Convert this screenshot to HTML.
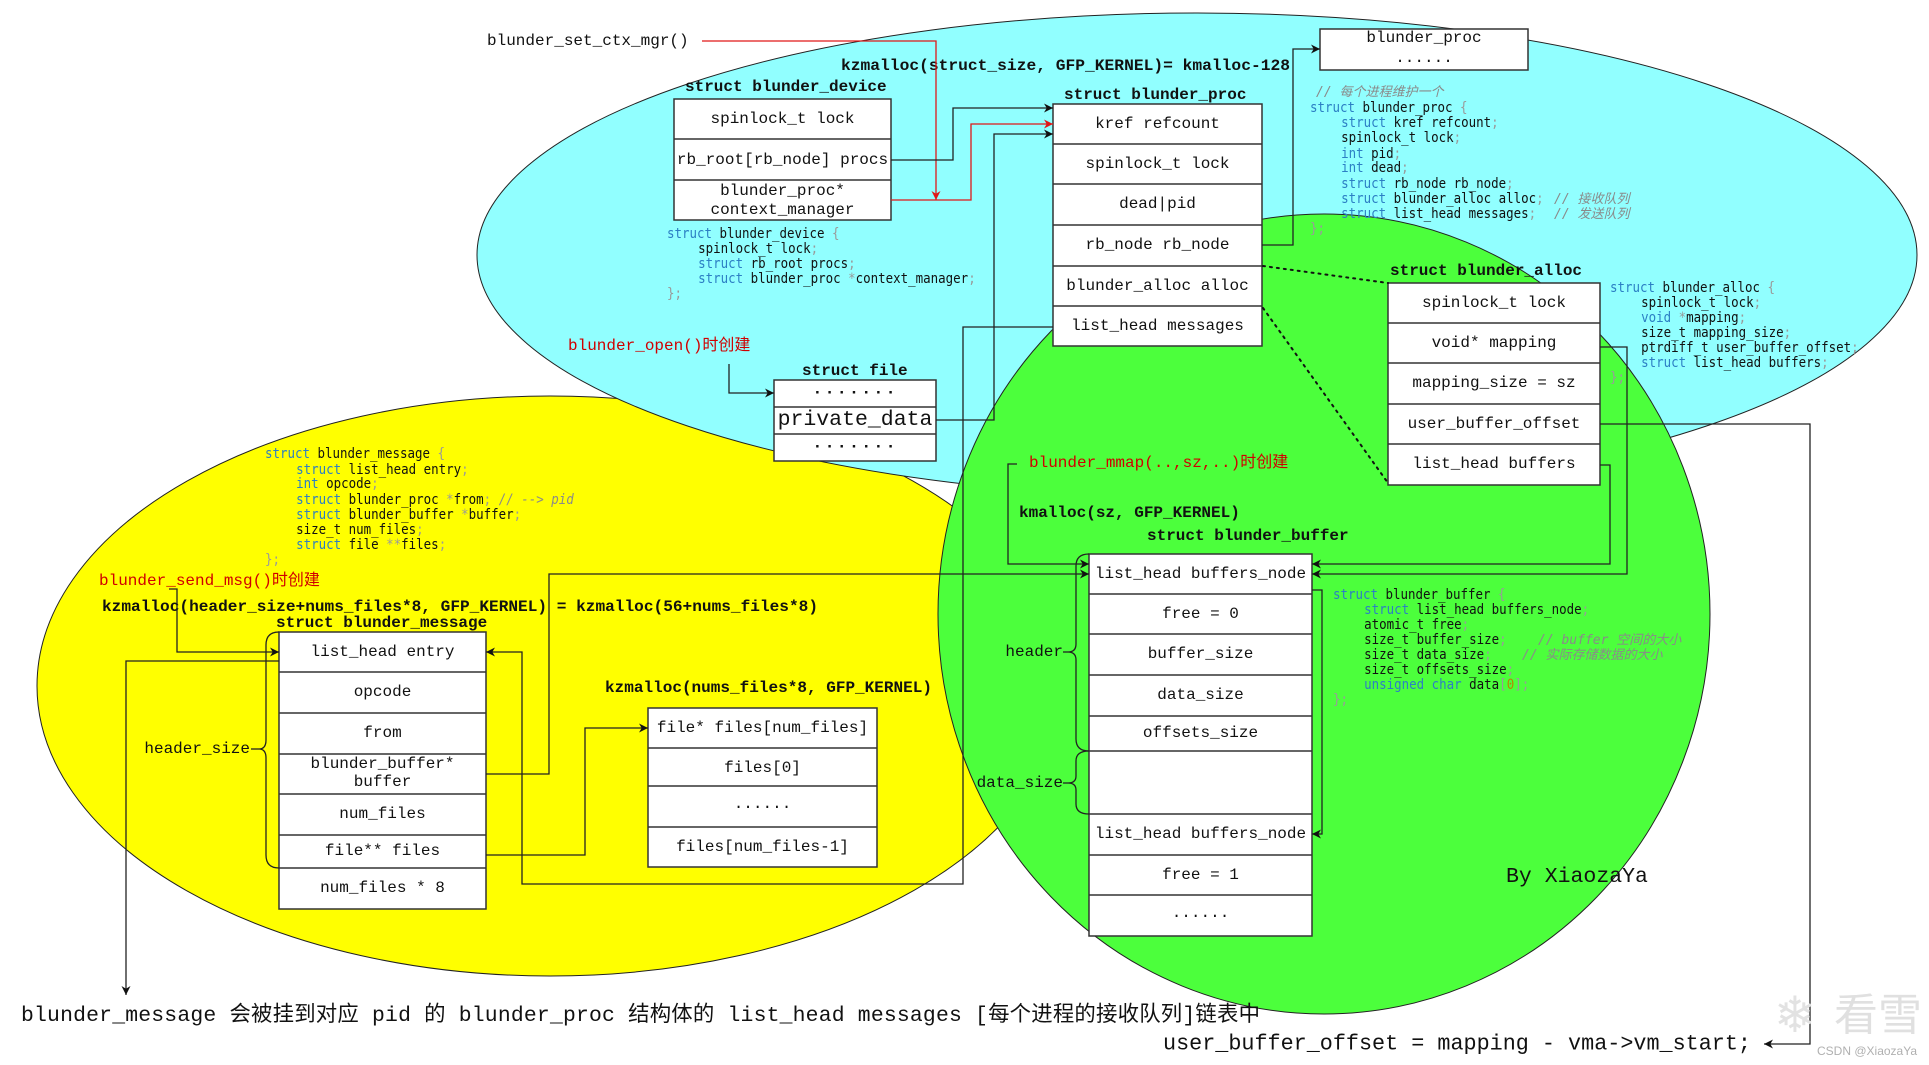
<!DOCTYPE html>
<html>
<head>
<meta charset="utf-8">
<style>
html,body{margin:0;padding:0;background:#fff;}
svg{display:block;}
.m{font-family:"Liberation Mono","Noto Sans CJK SC",monospace;font-size:16px;fill:#111;}
.b{font-weight:bold;}
.r{fill:#d00000;}
.c{font-family:"DejaVu Sans Mono","Noto Sans CJK SC",monospace;font-size:14px;fill:#111;}
.k{fill:#2c7fc4;}
.p{fill:#9a9a9a;}
.cm{fill:#8a8a8a;font-style:italic;}
.n{fill:#b58900;}
.box{fill:#fff;stroke:#333;stroke-width:1.5;}
.ln{fill:none;stroke:#222;stroke-width:1.3;}
.rl{fill:none;stroke:#e01818;stroke-width:1.3;}
</style>
</head>
<body>
<svg width="1929" height="1065" viewBox="0 0 1929 1065" xmlns="http://www.w3.org/2000/svg">
<defs>
<marker id="a" viewBox="0 0 10 10" refX="10" refY="5" markerWidth="9" markerHeight="9" markerUnits="userSpaceOnUse" orient="auto"><path d="M0,0 L10,5 L0,10 L3,5 z" fill="#111"/></marker>
<marker id="ar" viewBox="0 0 10 10" refX="10" refY="5" markerWidth="9" markerHeight="9" markerUnits="userSpaceOnUse" orient="auto"><path d="M0,0 L10,5 L0,10 L3,5 z" fill="#e01818"/></marker>
</defs>

<!-- ellipses -->
<ellipse cx="550" cy="686" rx="513" ry="290" fill="#ffff00" stroke="#222" stroke-width="1"/>
<ellipse cx="1197" cy="255" rx="720" ry="242" fill="#91ffff" stroke="#222" stroke-width="1"/>
<ellipse cx="1324" cy="614" rx="386" ry="400" fill="#4cff3c" stroke="#222" stroke-width="1"/>

<!-- ===== top labels ===== -->
<text class="m" x="487" y="41" dominant-baseline="central">blunder_set_ctx_mgr()</text>
<text class="m b" x="841" y="66" dominant-baseline="central" textLength="449" lengthAdjust="spacingAndGlyphs">kzmalloc(struct_size, GFP_KERNEL)= kmalloc-128</text>
<text class="m b" x="685" y="87" dominant-baseline="central">struct blunder_device</text>
<text class="m b" x="1064" y="95" dominant-baseline="central">struct blunder_proc</text>

<!-- blunder_device box -->
<rect class="box" x="674" y="99" width="217" height="121"/>
<line x1="674" y1="139" x2="891" y2="139" stroke="#333" stroke-width="1.5"/>
<line x1="674" y1="180" x2="891" y2="180" stroke="#333" stroke-width="1.5"/>
<g class="m" text-anchor="middle" dominant-baseline="central">
<text x="782.5" y="119" dominant-baseline="central">spinlock_t lock</text>
<text x="782.5" y="160" dominant-baseline="central">rb_root[rb_node] procs</text>
<text x="782.5" y="191" dominant-baseline="central">blunder_proc*</text>
<text x="782.5" y="210" dominant-baseline="central">context_manager</text>
</g>

<!-- blunder_proc box -->
<rect class="box" x="1053" y="104" width="209" height="242"/>
<g stroke="#333" stroke-width="1.5">
<line x1="1053" y1="144" x2="1262" y2="144"/>
<line x1="1053" y1="184" x2="1262" y2="184"/>
<line x1="1053" y1="225" x2="1262" y2="225"/>
<line x1="1053" y1="266" x2="1262" y2="266"/>
<line x1="1053" y1="306" x2="1262" y2="306"/>
</g>
<g class="m" text-anchor="middle">
<text x="1157.5" y="124" dominant-baseline="central">kref refcount</text>
<text x="1157.5" y="164" dominant-baseline="central">spinlock_t lock</text>
<text x="1157.5" y="204" dominant-baseline="central">dead|pid</text>
<text x="1157.5" y="245" dominant-baseline="central">rb_node rb_node</text>
<text x="1157.5" y="286" dominant-baseline="central">blunder_alloc alloc</text>
<text x="1157.5" y="326" dominant-baseline="central">list_head messages</text>
</g>

<!-- small blunder_proc box -->
<rect class="box" x="1320" y="29" width="208" height="41"/>
<text class="m" x="1424" y="38" text-anchor="middle" dominant-baseline="central">blunder_proc</text>
<text class="m" x="1424" y="58" text-anchor="middle" dominant-baseline="central">......</text>

<!-- blunder_alloc -->
<text class="m b" x="1390" y="271" dominant-baseline="central">struct blunder_alloc</text>
<rect class="box" x="1388" y="283" width="212" height="202"/>
<g stroke="#333" stroke-width="1.5">
<line x1="1388" y1="323" x2="1600" y2="323"/>
<line x1="1388" y1="363" x2="1600" y2="363"/>
<line x1="1388" y1="404" x2="1600" y2="404"/>
<line x1="1388" y1="444" x2="1600" y2="444"/>
</g>
<g class="m" text-anchor="middle">
<text x="1494" y="303" dominant-baseline="central">spinlock_t lock</text>
<text x="1494" y="343" dominant-baseline="central">void* mapping</text>
<text x="1494" y="383" dominant-baseline="central">mapping_size = sz</text>
<text x="1494" y="424" dominant-baseline="central">user_buffer_offset</text>
<text x="1494" y="464" dominant-baseline="central">list_head buffers</text>
</g>

<!-- struct file -->
<text class="m r" x="568" y="346" dominant-baseline="central">blunder_open()时创建</text>
<text class="m b" x="802" y="371" dominant-baseline="central">struct file</text>
<rect class="box" x="774" y="380" width="162" height="81"/>
<line x1="774" y1="407" x2="936" y2="407" stroke="#333" stroke-width="1.5"/>
<line x1="774" y1="434" x2="936" y2="434" stroke="#333" stroke-width="1.5"/>
<text class="m b" x="855" y="390" text-anchor="middle" dominant-baseline="central" style="font-size:17px;letter-spacing:2px">.......</text>
<text class="m" x="855" y="420" text-anchor="middle" dominant-baseline="central" style="font-size:21.5px">private_data</text>
<text class="m b" x="855" y="444" text-anchor="middle" dominant-baseline="central" style="font-size:17px;letter-spacing:2px">.......</text>

<!-- blunder_message area -->
<text class="m r" x="99" y="581" dominant-baseline="central">blunder_send_msg()时创建</text>
<text class="m b" x="102" y="607" dominant-baseline="central" textLength="716" lengthAdjust="spacingAndGlyphs">kzmalloc(header_size+nums_files*8, GFP_KERNEL) = kzmalloc(56+nums_files*8)</text>
<text class="m b" x="276" y="623" dominant-baseline="central">struct blunder_message</text>
<rect class="box" x="279" y="632" width="207" height="277"/>
<g stroke="#333" stroke-width="1.5">
<line x1="279" y1="672" x2="486" y2="672"/>
<line x1="279" y1="713" x2="486" y2="713"/>
<line x1="279" y1="754" x2="486" y2="754"/>
<line x1="279" y1="794" x2="486" y2="794"/>
<line x1="279" y1="835" x2="486" y2="835"/>
<line x1="279" y1="868" x2="486" y2="868"/>
</g>
<g class="m" text-anchor="middle">
<text x="382.5" y="652" dominant-baseline="central">list_head entry</text>
<text x="382.5" y="692" dominant-baseline="central">opcode</text>
<text x="382.5" y="733" dominant-baseline="central">from</text>
<text x="382.5" y="764" dominant-baseline="central">blunder_buffer*</text>
<text x="382.5" y="782" dominant-baseline="central">buffer</text>
<text x="382.5" y="814" dominant-baseline="central">num_files</text>
<text x="382.5" y="851" dominant-baseline="central">file** files</text>
<text x="382.5" y="888" dominant-baseline="central">num_files * 8</text>
</g>
<!-- header_size brace -->
<path class="ln" d="M279,632 Q266,632 266,645 L266,740 Q266,749 259,749 Q266,749 266,758 L266,855 Q266,868 279,868"/>
<line class="ln" x1="251" y1="749" x2="259" y2="749"/>
<text class="m" x="250" y="749" text-anchor="end" dominant-baseline="central">header_size</text>

<!-- files array -->
<text class="m b" x="605" y="688" dominant-baseline="central" textLength="327" lengthAdjust="spacingAndGlyphs">kzmalloc(nums_files*8, GFP_KERNEL)</text>
<rect class="box" x="648" y="708" width="229" height="159"/>
<g stroke="#333" stroke-width="1.5">
<line x1="648" y1="748" x2="877" y2="748"/>
<line x1="648" y1="786" x2="877" y2="786"/>
<line x1="648" y1="827" x2="877" y2="827"/>
</g>
<g class="m" text-anchor="middle">
<text x="762.5" y="728" dominant-baseline="central">file* files[num_files]</text>
<text x="762.5" y="768" dominant-baseline="central">files[0]</text>
<text x="762.5" y="804" dominant-baseline="central">......</text>
<text x="762.5" y="847" dominant-baseline="central">files[num_files-1]</text>
</g>

<!-- blunder_buffer -->
<text class="m r" x="1029" y="463" dominant-baseline="central">blunder_mmap(..,sz,..)时创建</text>
<text class="m b" x="1019" y="513" dominant-baseline="central">kmalloc(sz, GFP_KERNEL)</text>
<text class="m b" x="1147" y="536" dominant-baseline="central">struct blunder_buffer</text>
<rect class="box" x="1089" y="554" width="223" height="382"/>
<g stroke="#333" stroke-width="1.5">
<line x1="1089" y1="594" x2="1312" y2="594"/>
<line x1="1089" y1="634" x2="1312" y2="634"/>
<line x1="1089" y1="675" x2="1312" y2="675"/>
<line x1="1089" y1="716" x2="1312" y2="716"/>
<line x1="1089" y1="751" x2="1312" y2="751"/>
<line x1="1089" y1="814" x2="1312" y2="814"/>
<line x1="1089" y1="855" x2="1312" y2="855"/>
<line x1="1089" y1="895" x2="1312" y2="895"/>
</g>
<g class="m" text-anchor="middle">
<text x="1200.5" y="574" dominant-baseline="central">list_head buffers_node</text>
<text x="1200.5" y="614" dominant-baseline="central">free = 0</text>
<text x="1200.5" y="654" dominant-baseline="central">buffer_size</text>
<text x="1200.5" y="695" dominant-baseline="central">data_size</text>
<text x="1200.5" y="733" dominant-baseline="central">offsets_size</text>
<text x="1200.5" y="834" dominant-baseline="central">list_head buffers_node</text>
<text x="1200.5" y="875" dominant-baseline="central">free = 1</text>
<text x="1200.5" y="913" dominant-baseline="central">......</text>
</g>
<!-- braces -->
<path class="ln" d="M1089,554 Q1076,554 1076,566 L1076,644 Q1076,652 1068,652 Q1076,652 1076,660 L1076,739 Q1076,751 1089,751"/>
<line class="ln" x1="1063" y1="652" x2="1068" y2="652"/>
<text class="m" x="1063" y="652" text-anchor="end" dominant-baseline="central">header</text>
<path class="ln" d="M1089,751 Q1076,751 1076,761 L1076,776 Q1076,783 1068,783 Q1076,783 1076,790 L1076,804 Q1076,814 1089,814"/>
<line class="ln" x1="1063" y1="783" x2="1068" y2="783"/>
<text class="m" x="1063" y="783" text-anchor="end" dominant-baseline="central">data_size</text>

<!-- ===== connectors ===== -->
<polyline class="rl" points="702,41 936,41 936,200" marker-end="url(#ar)"/>
<polyline class="ln" points="891,160 953,160 953,108 1053,108" marker-end="url(#a)"/>
<polyline class="rl" points="891,200 971,200 971,124 1053,124" marker-end="url(#ar)"/>
<polyline class="ln" points="936,420 994,420 994,134 1053,134" marker-end="url(#a)"/>
<polyline class="ln" points="729,364 729,393 774,393" marker-end="url(#a)"/>
<polyline class="ln" points="1262,245 1293,245 1293,49 1320,49" marker-end="url(#a)"/>
<line x1="1263" y1="266" x2="1388" y2="283" stroke="#111" stroke-width="2" stroke-dasharray="2,5" stroke-linecap="round"/>
<line x1="1263" y1="308" x2="1388" y2="483" stroke="#111" stroke-width="2" stroke-dasharray="2,5" stroke-linecap="round"/>
<polyline class="ln" points="1053,327 963,327 963,884 522,884 522,652 486,652" marker-end="url(#a)"/>
<polyline class="ln" points="486,774 549,774 549,574 1089,574" marker-end="url(#a)"/>
<polyline class="ln" points="486,855 585,855 585,728 648,728" marker-end="url(#a)"/>
<polyline class="ln" points="169,589 177,589 177,652 279,652" marker-end="url(#a)"/>
<polyline class="ln" points="279,661 126,661 126,995" marker-end="url(#a)"/>
<polyline class="ln" points="1017,464 1008,464 1008,564 1089,564" marker-end="url(#a)"/>
<polyline class="ln" points="1600,347 1627,347 1627,574 1312,574" marker-end="url(#a)"/>
<polyline class="ln" points="1600,465 1610,465 1610,564 1312,564" marker-end="url(#a)"/>
<polyline class="ln" points="1312,590 1322,590 1322,834 1312,834" marker-end="url(#a)"/>
<polyline class="ln" points="1600,424 1810,424 1810,1044 1764,1044" marker-end="url(#a)"/>

<!-- ===== code blocks ===== -->
<g transform="translate(667,0) scale(0.89,1)">
<text class="c" x="0" y="238"><tspan class="k">struct</tspan> blunder_device <tspan class="p">{</tspan></text>
<text class="c" x="35" y="253">spinlock_t lock<tspan class="p">;</tspan></text>
<text class="c" x="35" y="268"><tspan class="k">struct</tspan> rb_root procs<tspan class="p">;</tspan></text>
<text class="c" x="35" y="283"><tspan class="k">struct</tspan> blunder_proc <tspan class="p">*</tspan>context_manager<tspan class="p">;</tspan></text>
<text class="c p" x="0" y="298">};</text>
</g>

<text class="c cm" x="1316" y="96" style="font-size:13px">// 每个进程维护一个</text>
<g transform="translate(1310,0) scale(0.89,1)">
<text class="c" x="0" y="112"><tspan class="k">struct</tspan> blunder_proc <tspan class="p">{</tspan></text>
<text class="c" x="35" y="127"><tspan class="k">struct</tspan> kref refcount<tspan class="p">;</tspan></text>
<text class="c" x="35" y="142">spinlock_t lock<tspan class="p">;</tspan></text>
<text class="c" x="35" y="158"><tspan class="k">int</tspan> pid<tspan class="p">;</tspan></text>
<text class="c" x="35" y="172"><tspan class="k">int</tspan> dead<tspan class="p">;</tspan></text>
<text class="c" x="35" y="188"><tspan class="k">struct</tspan> rb_node rb_node<tspan class="p">;</tspan></text>
<text class="c" x="35" y="203"><tspan class="k">struct</tspan> blunder_alloc alloc<tspan class="p">;</tspan></text>
<text class="c" x="35" y="218"><tspan class="k">struct</tspan> list_head messages<tspan class="p">;</tspan></text>
<text class="c p" x="0" y="233">};</text>
</g>
<text class="c cm" x="1554" y="203" style="font-size:13px">// 接收队列</text>
<text class="c cm" x="1554" y="218" style="font-size:13px">// 发送队列</text>

<g transform="translate(1610,0) scale(0.89,1)">
<text class="c" x="0" y="292"><tspan class="k">struct</tspan> blunder_alloc <tspan class="p">{</tspan></text>
<text class="c" x="35" y="307">spinlock_t lock<tspan class="p">;</tspan></text>
<text class="c" x="35" y="322"><tspan class="k">void</tspan> <tspan class="p">*</tspan>mapping<tspan class="p">;</tspan></text>
<text class="c" x="35" y="337">size_t mapping_size<tspan class="p">;</tspan></text>
<text class="c" x="35" y="352">ptrdiff_t user_buffer_offset<tspan class="p">;</tspan></text>
<text class="c" x="35" y="367"><tspan class="k">struct</tspan> list_head buffers<tspan class="p">;</tspan></text>
<text class="c p" x="0" y="382">};</text>
</g>

<g transform="translate(265,0) scale(0.89,1)">
<text class="c" x="0" y="458"><tspan class="k">struct</tspan> blunder_message <tspan class="p">{</tspan></text>
<text class="c" x="35" y="474"><tspan class="k">struct</tspan> list_head entry<tspan class="p">;</tspan></text>
<text class="c" x="35" y="488"><tspan class="k">int</tspan> opcode<tspan class="p">;</tspan></text>
<text class="c" x="35" y="504"><tspan class="k">struct</tspan> blunder_proc <tspan class="p">*</tspan>from<tspan class="p">;</tspan> <tspan class="cm">// --&gt; pid</tspan></text>
<text class="c" x="35" y="519"><tspan class="k">struct</tspan> blunder_buffer <tspan class="p">*</tspan>buffer<tspan class="p">;</tspan></text>
<text class="c" x="35" y="534">size_t num_files<tspan class="p">;</tspan></text>
<text class="c" x="35" y="549"><tspan class="k">struct</tspan> file <tspan class="p">**</tspan>files<tspan class="p">;</tspan></text>
<text class="c p" x="0" y="564">};</text>
</g>

<g transform="translate(1333,0) scale(0.89,1)">
<text class="c" x="0" y="599"><tspan class="k">struct</tspan> blunder_buffer <tspan class="p">{</tspan></text>
<text class="c" x="35" y="614"><tspan class="k">struct</tspan> list_head buffers_node<tspan class="p">;</tspan></text>
<text class="c" x="35" y="629">atomic_t free<tspan class="p">;</tspan></text>
<text class="c" x="35" y="644">size_t buffer_size<tspan class="p">;</tspan></text>
<text class="c" x="35" y="659">size_t data_size<tspan class="p">;</tspan></text>
<text class="c" x="35" y="674">size_t offsets_size<tspan class="p">;</tspan></text>
<text class="c" x="35" y="689"><tspan class="k">unsigned</tspan> <tspan class="k">char</tspan> data<tspan class="p">[</tspan><tspan class="n">0</tspan><tspan class="p">];</tspan></text>
<text class="c p" x="0" y="704">};</text>
</g>
<text class="c cm" x="1538" y="644" style="font-size:13px">// buffer 空间的大小</text>
<text class="c cm" x="1522" y="659" style="font-size:13px">// 实际存储数据的大小</text>

<text class="m" x="1506" y="877" dominant-baseline="central" style="font-size:21.5px">By XiaozaYa</text>

<text class="m" x="21" y="1016" dominant-baseline="central" style="font-size:21.4px" textLength="1239" lengthAdjust="spacing">blunder_message 会被挂到对应 pid 的 blunder_proc 结构体的 list_head messages [每个进程的接收队列]链表中</text>
<text class="m" x="1163" y="1044" dominant-baseline="central" style="font-size:21.8px" textLength="588" lengthAdjust="spacingAndGlyphs">user_buffer_offset = mapping - vma-&gt;vm_start;</text>

<text x="1774" y="1032" style="font-family:'DejaVu Sans',sans-serif;font-size:50px;fill:#e2e2e2">❄</text>
<text x="1834" y="1030" style="font-family:'Noto Sans CJK SC',sans-serif;font-size:44px;fill:#e0e0e0">看雪</text>
<text x="1817" y="1055" style="font-family:'Liberation Sans',sans-serif;font-size:12px;fill:#b0b0b0">CSDN @XiaozaYa</text>
</svg>
</body>
</html>
